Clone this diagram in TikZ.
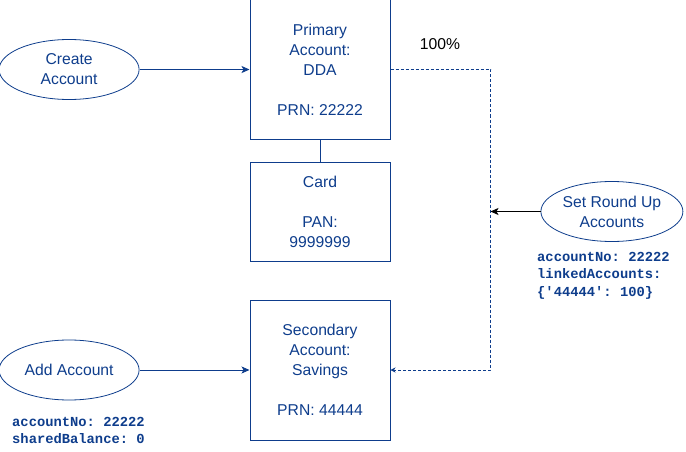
\documentclass[tikz,border=0pt]{standalone}
\usepackage{fontspec}
\setmainfont{Liberation Sans}
\setmonofont{Liberation Mono}
\usepackage{xcolor}
\usetikzlibrary{arrows.meta,positioning,shapes.geometric}
\definecolor{acctblue}{HTML}{0E3D8C}

\begin{document}
\begin{tikzpicture}[
x=1pt, y=1pt,
node distance=22pt and 110pt,
acct/.style={draw=acctblue, text=acctblue, line width=1pt, minimum width=140pt, inner sep=0pt, align=center, font=\fontsize{15.7}{20}\selectfont},
event/.style={draw=acctblue, text=acctblue, line width=0.8pt, ellipse, minimum width=140pt, minimum height=60pt, inner sep=0pt, align=center, font=\fontsize{15.7}{20}\selectfont},
note/.style={text=acctblue, anchor=north west, inner sep=0pt, align=left, font=\ttfamily\bfseries\fontsize{13.8}{17.5}\selectfont},
arr/.style={-{Stealth[length=8pt, width=7pt, inset=2pt]}, line width=0.8pt, acctblue},
dotarr/.style={-{Stealth[length=5pt, width=5pt, inset=1.5pt]}, line width=0.8pt, acctblue, dash pattern=on 3pt off 2pt}
]
\useasboundingbox (0,0) rectangle (686,451);

\node[acct, minimum height=139pt] (prim) at (320,381.5) {Primary\\Account:\\DDA\\[20pt]PRN: 22222};
\node[acct, minimum height=99pt, below=of prim] (card) {Card\\[20pt]PAN:\\9999999};
\node[acct, minimum height=140pt, below=38pt of card] (sec) {Secondary\\Account:\\Savings\\[20pt]PRN: 44444};

\node[event, left=of prim] (create) {Create\\Account};
\node[event, left=of sec] (add) {Add Account};
\node[event, minimum width=142pt, right=150pt of card] (round) {Set Round Up\\Accounts};

\node[font=\fontsize{15.7}{20}\selectfont] (pct) at (440,407) {100\%};
\node[note] (roundnote) at (537,199) {accountNo: 22222\\linkedAccounts:\\\{'44444': 100\}};
\node[note] (addnote) at (12,34) {accountNo: 22222\\sharedBalance: 0};

\coordinate[right=100pt of prim.east] (rail);

\draw[arr] (create) -- (prim);
\draw[arr] (add) -- (sec);
\draw[acctblue, line width=1pt] (prim) -- (card);
\draw[dotarr] (prim.east) -- (rail) |- (sec.east);
\draw[arr, black] (round) -- (round -| rail);
\end{tikzpicture}
\end{document}
